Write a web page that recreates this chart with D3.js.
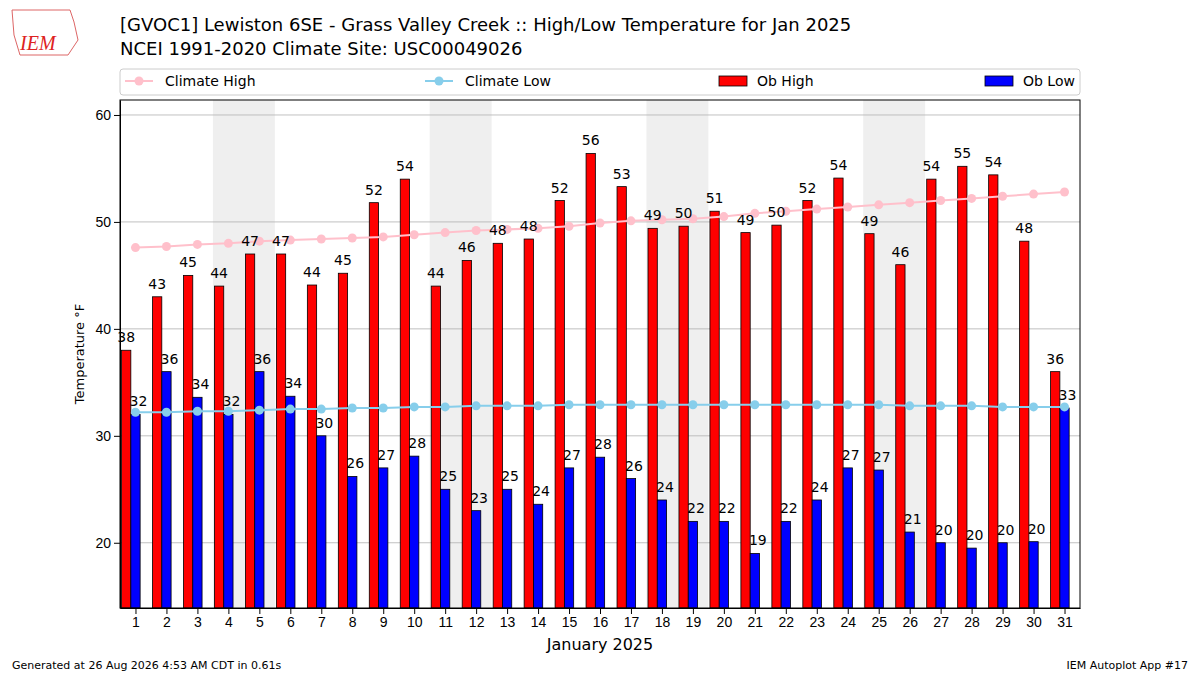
<!DOCTYPE html>
<html><head><meta charset="utf-8">
<script src="https://cdn.jsdelivr.net/npm/d3@7"></script>
<style>body{margin:0;background:#fff;font-family:"DejaVu Sans",sans-serif;}</style>
</head><body><svg id="chart"></svg>
<script>
const width = 1200, height = 675;
const svg = d3.select("#chart").attr("width", width).attr("height", height);

// Observed and climatology values for Jan 2025
const obHigh = [38,43,45,44,47,47,44.1,45.2,51.8,54,44,46.4,48,48.4,52,56.4,53.3,49.4,49.6,51,49,49.7,52,54.1,48.9,46,54,55.2,54.4,48.2,36];
const obLow = [32,36,33.6,32,36,33.7,30,26.2,27,28.1,25,23,25,23.6,27,28,26,24,22,22,19,22,24,27,26.8,21,20,19.5,20,20.1,32.6];
const climHigh = [47.6,47.7,47.9,48.0,48.2,48.3,48.4,48.5,48.6,48.8,49.0,49.2,49.3,49.4,49.6,49.9,50.1,50.2,50.3,50.5,50.8,51.0,51.2,51.4,51.6,51.8,52.0,52.2,52.4,52.6,52.8];
const climLow = [32.2,32.2,32.3,32.3,32.4,32.5,32.5,32.6,32.6,32.7,32.7,32.8,32.8,32.8,32.9,32.9,32.9,32.9,32.9,32.9,32.9,32.9,32.9,32.9,32.9,32.8,32.8,32.8,32.7,32.7,32.7];
const days = d3.range(1, 32);
const weekends = [4, 11, 18, 25];

const m = {left: 120, right: 1080, top: 100, bottom: 608};
const x = d3.scaleLinear().domain([0.5, 31.5]).range([m.left, m.right]);
const y = d3.scaleLinear().domain([13.9, 61.4]).range([m.bottom, m.top]);
const bw = x(0.3) - x(0);
const off = x(0.15) - x(0);   // bars sit slightly left of the tick

// Titles
svg.append("text").attr("x", 120).attr("y", 31).attr("font-size", 18)
    .text("[GVOC1] Lewiston 6SE - Grass Valley Creek :: High/Low Temperature for Jan 2025");
svg.append("text").attr("x", 120).attr("y", 55).attr("font-size", 18)
    .text("NCEI 1991-2020 Climate Site: USC00049026");

// Logo stand-in
svg.append("text").attr("x", 20).attr("y", 50).attr("font-size", 20).attr("font-style", "italic")
    .attr("font-family", "Liberation Serif").attr("fill", "#d22").text("IEM");
svg.append("path").attr("d", "M12,10 L70,10 L74,22 L78,40 L68,55 L20,55 L14,35 Z")
    .attr("fill", "none").attr("stroke", "#d66").attr("stroke-width", 1);

// Weekend shading
svg.selectAll(".wk").data(weekends).enter().append("rect")
    .attr("x", d => x(d - 0.5)).attr("width", x(2) - x(0))
    .attr("y", m.top).attr("height", m.bottom - m.top).attr("fill", "#efefef");

// Gridlines
const yTicks = [20, 30, 40, 50, 60];
svg.selectAll(".grid").data(yTicks).enter().append("line")
    .attr("x1", m.left).attr("x2", m.right).attr("y1", d => y(d)).attr("y2", d => y(d))
    .attr("stroke", "#b0b0b0").attr("stroke-width", 0.8);

// Bars
svg.selectAll(".hi").data(days).enter().append("rect")
    .attr("x", d => x(d) - bw - off).attr("width", bw)
    .attr("y", d => y(obHigh[d - 1])).attr("height", d => m.bottom - y(obHigh[d - 1]))
    .attr("fill", "red").attr("stroke", "black").attr("stroke-width", 0.8);
svg.selectAll(".lo").data(days).enter().append("rect")
    .attr("x", d => x(d) - off).attr("width", bw)
    .attr("y", d => y(obLow[d - 1])).attr("height", d => m.bottom - y(obLow[d - 1]))
    .attr("fill", "blue").attr("stroke", "black").attr("stroke-width", 0.8);

// Climate lines
function climLine(vals, color) {
    const line = d3.line().x((v, i) => x(i + 1)).y(v => y(v));
    svg.append("path").datum(vals).attr("d", line).attr("fill", "none")
        .attr("stroke", color).attr("stroke-width", 2);
    svg.selectAll(null).data(vals).enter().append("circle")
        .attr("cx", (v, i) => x(i + 1)).attr("cy", v => y(v)).attr("r", 4.5).attr("fill", color);
}
climLine(climHigh, "pink");
climLine(climLow, "skyblue");

// Value labels
svg.selectAll(".hl").data(days).enter().append("text")
    .attr("x", d => x(d) - bw / 2 - off).attr("y", d => y(obHigh[d - 1]) - 8)
    .attr("text-anchor", "middle").attr("font-size", 14).text(d => Math.round(obHigh[d - 1]));
svg.selectAll(".ll").data(days).enter().append("text")
    .attr("x", d => x(d) + bw / 2 - off + 3).attr("y", d => y(obLow[d - 1]) - 8)
    .attr("text-anchor", "middle").attr("font-size", 14).text(d => Math.round(obLow[d - 1]));

// Axes
svg.append("g").attr("transform", `translate(0,${m.bottom})`)
    .call(d3.axisBottom(x).tickValues(days).tickFormat(d3.format("d")).tickSizeOuter(0))
    .call(g => g.selectAll("text").attr("font-size", 14).attr("fill", "black"));
svg.append("g").attr("transform", `translate(${m.left},0)`)
    .call(d3.axisLeft(y).tickValues(yTicks).tickSizeOuter(0))
    .call(g => g.selectAll("text").attr("font-size", 14).attr("fill", "black"));
svg.append("rect").attr("x", m.left).attr("y", m.top).attr("width", m.right - m.left)
    .attr("height", m.bottom - m.top).attr("fill", "none").attr("stroke", "black");

svg.append("text").attr("x", 600).attr("y", 650).attr("text-anchor", "middle")
    .attr("font-size", 16).text("January 2025");
svg.append("text").attr("transform", "translate(84,354) rotate(-90)").attr("text-anchor", "middle")
    .attr("font-size", 13).text("Temperature °F");

// Legend
svg.append("rect").attr("x", 120).attr("y", 69).attr("width", 960).attr("height", 26).attr("rx", 3)
    .attr("fill", "white").attr("stroke", "#ccc");
const leg = svg.append("g").attr("font-size", 14);
[[125, "Climate High", "pink"], [425, "Climate Low", "skyblue"]].forEach(([lx, t, c]) => {
    leg.append("line").attr("x1", lx).attr("x2", lx + 28).attr("y1", 81).attr("y2", 81).attr("stroke", c).attr("stroke-width", 2);
    leg.append("circle").attr("cx", lx + 14).attr("cy", 81).attr("r", 4.5).attr("fill", c);
    leg.append("text").attr("x", lx + 40).attr("y", 86).text(t);
});
[[719, "Ob High", "red"], [985, "Ob Low", "blue"]].forEach(([lx, t, c]) => {
    leg.append("rect").attr("x", lx).attr("y", 76).attr("width", 28).attr("height", 10).attr("fill", c).attr("stroke", "black").attr("stroke-width", 0.8);
    leg.append("text").attr("x", lx + 38).attr("y", 86).text(t);
});

// Footer
svg.append("text").attr("x", 12).attr("y", 669).attr("font-size", 11).text("Generated at 26 Aug 2026 4:53 AM CDT in 0.61s");
svg.append("text").attr("x", 1188).attr("y", 669).attr("text-anchor", "end").attr("font-size", 11).text("IEM Autoplot App #17");
</script></body></html>
